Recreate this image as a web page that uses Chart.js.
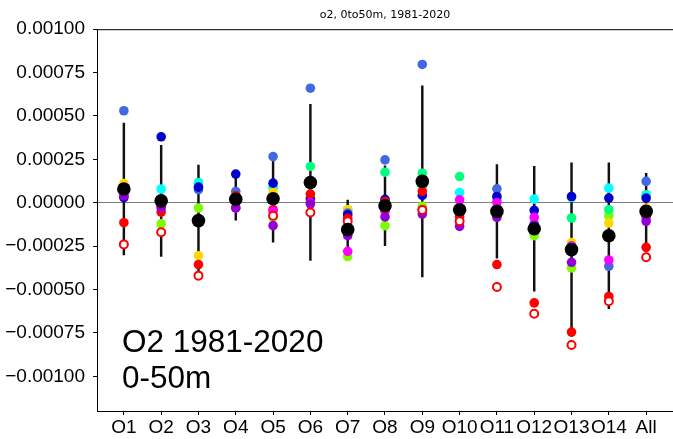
<!DOCTYPE html>
<html>
<head>
<meta charset="utf-8">
<script src="https://cdn.jsdelivr.net/npm/chart.js@4.4.1/dist/chart.umd.min.js"></script>
<style>
  html, body { margin: 0; padding: 0; background: #fff; }
  #wrap { width: 673px; height: 439px; }
</style>
</head>
<body>
<div id="wrap"><canvas id="chart"></canvas></div>
<script>
// ================================
// DATA
// ================================
const categories = ["O1", "O2", "O3", "O4", "O5", "O6", "O7", "O8", "O9", "O10", "O11", "O12", "O13", "O14", "All"];
const yTicks = [0.001, 0.00075, 0.0005, 0.00025, 0, -0.00025, -0.0005, -0.00075, -0.001];

const royalBlue  = [0.00053, 0.0, 0.000075, 0.000065, 0.000266, 0.00066, -0.00006, 0.000247, 0.000797, -0.00006, 0.00008, -0.00012, -0.00025, -0.000366, 0.000123];
const blue       = [0.00003, 0.00038, 0.00009, 0.000165, 0.000113, 0.000021, -0.00007, 0.00002, 0.000042, -0.00005, 0.000036, -0.000044, 0.000036, 0.000027, 0.000027];
const cyan       = [0.00008, 0.000079, 0.00011, 0.00003, 0.00009, 0.00005, -0.00005, 0.00001, 0.00009, 0.000059, 0.00002, 0.000021, 0.00003, 0.000084, 0.00004];
const springGreen= [0.00007, 0.00002, 0.000117, 0.00002, 0.000086, 0.000209, -0.00004, 0.000176, 0.00017, 0.000151, -0.00003, -0.00016, -0.000088, -0.00004, 0.000046];
const lawnGreen  = [0.00006, -0.000122, -0.00003, 0.00001, -0.000086, 0.00001, -0.00031, -0.000132, -0.00002, -0.00003, -0.00004, -0.00019, -0.000375, -0.000075, -0.00004];
const gold       = [0.00011, 0.00001, -0.000305, 0.00002, 0.00006, 0.00003, -0.00004, 0.0, 0.0001, -0.00003, -0.00004, -0.00014, -0.00023, -0.000117, -0.00003];
const red        = [-0.000115, -0.000054, -0.000356, 0.00004, -0.00004, 0.00005, -0.00009, 0.0000075, 0.000065, -0.00008, -0.000356, -0.000577, -0.000745, -0.00054, -0.000257];
const magenta    = [0.000046, -0.00002, -0.0001, -0.00003, -0.00005, 0.0, -0.00028, -0.00005, -0.00004, 0.000017, 0.0000017, -0.000084, -0.00025, -0.00033, -0.000088];
const darkViolet = [0.00004, -0.00003, -0.0001, -0.00003, -0.000132, -0.000006, -0.00019, -0.000082, -0.000065, -0.000136, -0.000084, -0.00013, -0.000343, -0.0002, -0.000107];
const redOpen    = [-0.00024, -0.00017, -0.00042, 0.00001, -0.000075, -0.000056, -0.000107, -0.00003, -0.000042, -0.000107, -0.000485, -0.00064, -0.00082, -0.000567, -0.000314];
const meanVals   = [0.000079, 0.000011, -0.000103, 0.00002, 0.000023, 0.000117, -0.000155, -0.000017, 0.000123, -0.00004, -0.00005, -0.00015, -0.00027, -0.00019, -0.00005];
const stdVals    = [0.00038, 0.00032, 0.00032, 0.00012, 0.00025, 0.00045, 0.00017, 0.00023, 0.00055, 0.00005, 0.00027, 0.00036, 0.0005, 0.00042, 0.00022];

// ================================
// helpers
// ================================
const toPoints = arr => arr.map((v, i) => ({ x: i, y: v }));

function dotSet(label, values, color, order) {
    return {
        type: "scatter",
        label: label,
        data: toPoints(values),
        backgroundColor: color,
        borderColor: color,
        pointRadius: 4.8,
        pointHoverRadius: 4.8,
        pointBorderWidth: 0,
        order: order
    };
}

// top spine + text annotation
const extrasPlugin = {
    id: "extras",
    afterDraw(chart) {
        const ctx = chart.ctx;
        const area = chart.chartArea;
        ctx.save();
        ctx.strokeStyle = "#000";
        ctx.lineWidth = 1;
        ctx.beginPath();
        ctx.moveTo(area.left, area.top + 0.5);
        ctx.lineTo(area.right, area.top + 0.5);
        ctx.stroke();

        ctx.fillStyle = "#000";
        ctx.font = "31.5px 'Liberation Sans', Arial, sans-serif";
        ctx.textBaseline = "alphabetic";
        ctx.fillText("O2 1981-2020", area.left + 25, 352);
        ctx.fillText("0-50m", area.left + 25, 388);
        ctx.restore();
    }
};

const tickFont = { family: "'Liberation Sans', Arial, sans-serif", size: 19 };

new Chart(document.getElementById("chart").getContext("2d"), {
    type: "scatter",
    data: {
        datasets: [
            {
                type: "scatter",
                label: "mean",
                data: toPoints(meanVals),
                backgroundColor: "#000",
                borderColor: "#000",
                pointRadius: 6.8,
                pointHoverRadius: 6.8,
                pointBorderWidth: 0,
                order: 0
            },
            {
                type: "scatter",
                label: "obs",
                data: toPoints(redOpen),
                backgroundColor: "#fff",
                borderColor: "#ff0000",
                pointRadius: 4,
                pointHoverRadius: 4,
                pointBorderWidth: 2,
                order: 1
            },
            dotSet("darkviolet", darkViolet, "#9400d3", 2),
            dotSet("magenta", magenta, "#ff00ff", 3),
            dotSet("red", red, "#ff0000", 4),
            dotSet("blue", blue, "#0000cd", 5),
            dotSet("royalblue", royalBlue, "#4169e1", 6),
            dotSet("gold", gold, "#ffd700", 7),
            dotSet("cyan", cyan, "#00ffff", 8),
            dotSet("springgreen", springGreen, "#00ff7f", 9),
            dotSet("lawngreen", lawnGreen, "#7cfc00", 10),
            {
                type: "bar",
                label: "spread",
                data: meanVals.map((m, i) => ({ x: i, y: [m - stdVals[i], m + stdVals[i]] })),
                backgroundColor: "#111",
                borderWidth: 0,
                barThickness: 1.8,
                order: 20
            }
        ]
    },
    options: {
        responsive: true,
        maintainAspectRatio: false,
        animation: false,
        layout: { autoPadding: false, padding: { left: 0, right: -3, top: 0, bottom: 0 } },
        plugins: {
            legend: { display: false },
            tooltip: { enabled: false },
            title: {
                display: true,
                text: "o2, 0to50m, 1981-2020",
                fullSize: false,
                color: "#000",
                font: { family: "'DejaVu Sans', sans-serif", size: 11, weight: "normal" },
                padding: { top: 9, bottom: 7 }
            }
        },
        scales: {
            x: {
                type: "linear",
                offset: false,
                min: -0.72,
                max: 14.72,
                afterBuildTicks: scale => {
                    scale.ticks = categories.map((c, i) => ({ value: i }));
                },
                afterFit: scale => {
                    scale.height = 28;
                    scale.paddingLeft = 0;
                    scale.paddingRight = 0;
                },
                ticks: {
                    color: "#000",
                    font: tickFont,
                    padding: 1,
                    maxRotation: 0,
                    autoSkip: false,
                    callback: v => categories[v]
                },
                grid: { offset: false, drawOnChartArea: false, tickLength: 4, tickColor: "#000" },
                border: { display: true, color: "#000", width: 1 }
            },
            y: {
                type: "linear",
                min: -0.0012,
                max: 0.001,
                afterBuildTicks: scale => {
                    scale.ticks = yTicks.map(v => ({ value: v }));
                },
                afterFit: scale => { scale.width = 97; },
                ticks: {
                    color: "#000",
                    font: tickFont,
                    padding: 8,
                    callback: v => {
                        const s = Math.abs(v) < 1e-12 ? "0.00000" : v.toFixed(5);
                        return s.replace("-", "\u2212");
                    }
                },
                grid: {
                    tickLength: 4,
                    tickColor: "#000",
                    color: c => (c.tick && Math.abs(c.tick.value) < 1e-12) ? "#808080" : "rgba(0,0,0,0)",
                    lineWidth: 1
                },
                border: { display: true, color: "#000", width: 1 }
            }
        }
    },
    plugins: [extrasPlugin]
});
</script>
</body>
</html>
